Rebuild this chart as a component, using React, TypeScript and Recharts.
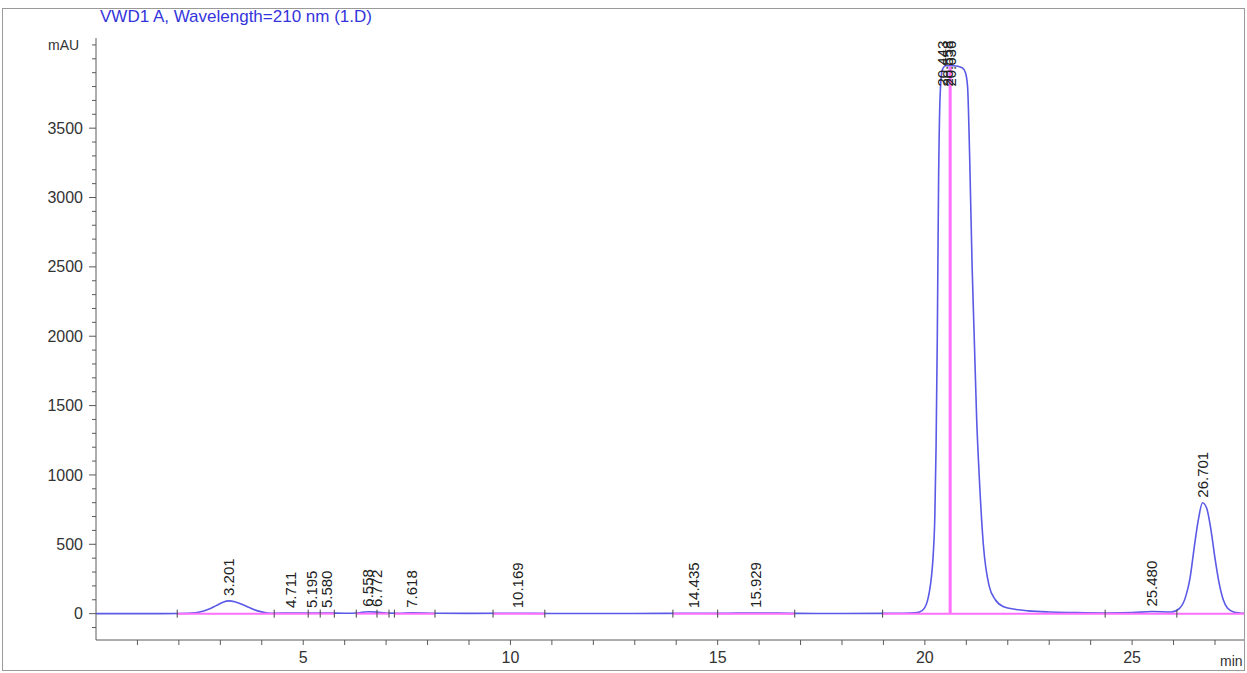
import { ComposedChart, Line, Scatter, XAxis, YAxis, ReferenceLine } from 'recharts'

// chromatogram trace: retention time (min) / absorbance (mAU)
const traceTimes = [
    0, 1.0, 1.6, 2.0, 2.3, 2.5, 2.7, 2.9, 3.05, 3.2, 3.35, 3.5, 3.7, 3.9, 4.1, 4.3,
    4.71, 5.2, 5.58, 6.0, 6.3, 6.56, 6.77, 7.0, 7.3, 7.62, 8.2, 9.0, 10.17, 11.0, 13.0,
    14.43, 15.0, 15.93, 16.9, 18.0, 19.0, 19.5, 19.75, 19.87, 19.99, 20.06, 20.11, 20.16,
    20.2, 20.24, 20.27, 20.3, 20.33, 20.37, 20.42, 20.5, 20.7, 20.9, 20.98, 21.03, 21.08, 21.14,
    21.19, 21.25, 21.31, 21.41, 21.55, 21.7, 21.9, 22.2, 22.5, 23.0, 23.6, 24.4, 25.0,
    25.48, 25.95, 26.15, 26.3, 26.4, 26.5, 26.6, 26.7, 26.8, 26.9, 27.0, 27.1, 27.2, 27.3,
    27.45, 27.6, 27.7,
]
const traceValues = [
    0, 0, 0, 1, 4, 12, 30, 58, 80, 92, 86, 70, 44, 20, 7, 3,
    4, 4, 4, 3, 5, 14, 11, 4, 3, 6, 3, 2, 3, 1, 1,
    3, 2, 5, 2, 1, 2, 3, 6, 12, 40, 90, 160, 270,
    420, 700, 1200, 2000, 3100, 3750, 3920, 3950, 3950, 3935, 3900, 3800, 3300, 2500,
    2000, 1400, 1000, 500, 200, 100, 50, 30, 20, 12, 8, 5, 7,
    15, 12, 40, 130, 260, 480, 680, 800, 760, 610, 400, 220, 100, 40,
    12, 5, 3,
]

// integrated peaks: retention time, apex height, printed label
const peakTimes = [3.201, 4.711, 5.195, 5.58, 6.558, 6.772, 7.618, 10.169, 14.435, 15.929, 20.443, 20.558, 20.636, 25.48, 26.701]
const peakHeights = [92, 4, 4, 4, 14, 11, 6, 3, 3, 5, 3950, 3950, 3950, 15, 800]
const peakLabels = ['3.201', '4.711', '5.195', '5.580', '6.558', '6.772', '7.618', '10.169', '14.435', '15.929', '20.443', '20.558', '20.636', '25.480', '26.701']

// integration start/end marks and baseline segments
const markTimes = [1.96, 4.3, 5.12, 5.41, 5.75, 6.28, 6.78, 7.07, 7.2, 8.18, 9.58, 10.83, 13.92, 15.0, 16.86, 18.98, 24.35, 26.08]
const baselineStarts = [1.96, 4.3, 5.12, 5.41, 6.28, 6.78, 7.2, 9.58, 13.92, 15.0, 18.98, 24.35, 26.08]
const baselineEnds = [4.3, 5.12, 5.41, 5.75, 6.78, 7.07, 8.18, 10.83, 15.0, 16.86, 24.35, 26.08, 27.7]
const dropLineTime = 20.61
const dropLineTop = 3945

const yTicks = [
    -100, 0, 100, 200, 300, 400, 500, 600, 700, 800, 900, 1000, 1100, 1200, 1300, 1400,
    1500, 1600, 1700, 1800, 1900, 2000, 2100, 2200, 2300, 2400, 2500, 2600, 2700, 2800,
    2900, 3000, 3100, 3200, 3300, 3400, 3500, 3600, 3700, 3800, 3900, 4000, 4100,
]
const yLabelTicks = [0, 500, 1000, 1500, 2000, 2500, 3000, 3500]
const xTicks = [1, 2, 3, 4, 5, 6, 7, 8, 9, 10, 11, 12, 13, 14, 15, 16, 17, 18, 19, 20, 21, 22, 23, 24, 25, 26, 27]
const xLabelTicks = [5, 10, 15, 20, 25]

const trace = traceTimes.map((t, i) => ({ t, mAU: traceValues[i] }))
const peaks = peakTimes.map((t, i) => ({ t, h: peakHeights[i], label: peakLabels[i] }))
const marks = markTimes.map((t) => ({ t, v: 0 }))

const FONT = '"Liberation Sans", Arial, sans-serif'
const PLOT_TOP = 38
const TRACE = '#5a5ae6'
const PINK = '#ff70ff'
const AXIS = '#5a5a5a'

function YTick(props: any) {
    const { x, y, payload } = props
    const axisX = x + 11
    const major = yLabelTicks.includes(payload.value)
    const len = major ? 7 : 4
    return (
        <g>
            <line x1={axisX - len} x2={axisX} y1={y} y2={y} stroke={AXIS} />
            {major && (
                <text x={axisX - 13} y={y} dy="0.35em" textAnchor="end" fontSize={16} fontFamily={FONT} fill="#333">
                    {payload.value}
                </text>
            )}
        </g>
    )
}

function XTick(props: any) {
    const { x, y, payload } = props
    const axisY = y - 14
    const major = xLabelTicks.includes(payload.value)
    return (
        <g>
            <line x1={x} x2={x} y1={axisY} y2={axisY + 5} stroke={AXIS} />
            {major && (
                <text x={x} y={axisY + 9} dy="0.85em" textAnchor="middle" fontSize={16} fontFamily={FONT} fill="#333">
                    {payload.value}
                </text>
            )}
        </g>
    )
}

function PeakLabel(props: any) {
    const { cx, cy, payload } = props
    const textLen = payload.label.length * 8.1
    const y = Math.max(cy - 5, PLOT_TOP + textLen)
    return (
        <text
            x={cx}
            y={y}
            dy="0.35em"
            transform={`rotate(-90 ${cx} ${y})`}
            fontSize={15}
            fontFamily={FONT}
            fill="#222"
        >
            {payload.label}
        </text>
    )
}

function Mark(props: any) {
    const { cx, cy } = props
    return <line x1={cx} x2={cx} y1={cy - 4} y2={cy + 4} stroke="#444" strokeWidth={1} />
}

export default function App() {
    return (
        <div style={{ position: 'relative', width: 1247, height: 673, background: '#fff' }}>
            <style>{'body{margin:0}'}</style>
            <div
                style={{
                    position: 'absolute', left: 2, top: 8, width: 1241, height: 661,
                    border: '1.5px solid #9a9a9a', pointerEvents: 'none',
                }}
            />
            <div style={{ position: 'absolute', left: 100, top: 7, fontFamily: FONT, fontSize: 17, lineHeight: '20px', color: '#3535dc' }}>
                VWD1 A, Wavelength=210 nm (1.D)
            </div>
            <div style={{ position: 'absolute', left: 48, top: 36, fontFamily: FONT, fontSize: 14, lineHeight: '18px', color: '#333' }}>
                mAU
            </div>
            <div style={{ position: 'absolute', left: 1220, top: 652, fontFamily: FONT, fontSize: 14, lineHeight: '18px', color: '#333' }}>
                min
            </div>
            <ComposedChart width={1247} height={673} data={trace} margin={{ top: PLOT_TOP, right: 3, left: 0, bottom: 0 }}>
                <XAxis
                    dataKey="t"
                    type="number"
                    domain={[0, 27.7]}
                    ticks={xTicks}
                    interval={0}
                    height={33}
                    allowDataOverflow
                    stroke={AXIS}
                    tickLine={false}
                    tickSize={5}
                    tickMargin={9}
                    tick={<XTick />}
                />
                <YAxis
                    type="number"
                    domain={[-190, 4150]}
                    ticks={yTicks}
                    interval={0}
                    width={96}
                    allowDataOverflow
                    stroke={AXIS}
                    tickLine={false}
                    tickSize={7}
                    tickMargin={4}
                    tick={<YTick />}
                />
                <Line
                    type="monotone"
                    dataKey="mAU"
                    stroke={TRACE}
                    strokeWidth={1.6}
                    dot={false}
                    activeDot={false}
                    isAnimationActive={false}
                />
                {baselineStarts.map((s, i) => (
                    <ReferenceLine
                        key={`b${i}`}
                        segment={[{ x: s, y: 0 }, { x: baselineEnds[i], y: 0 }]}
                        stroke={PINK}
                        strokeWidth={2}
                    />
                ))}
                <ReferenceLine
                    segment={[{ x: dropLineTime, y: 0 }, { x: dropLineTime, y: dropLineTop }]}
                    stroke={PINK}
                    strokeWidth={3}
                />
                <Scatter data={marks} dataKey="v" shape={<Mark />} isAnimationActive={false} />
                <Scatter data={peaks} dataKey="h" shape={<PeakLabel />} isAnimationActive={false} />
            </ComposedChart>
        </div>
    )
}
